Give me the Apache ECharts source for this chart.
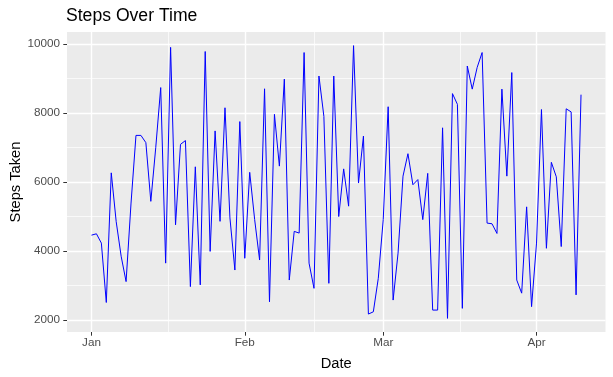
<!DOCTYPE html>
<html>
<head>
<meta charset="utf-8">
<script src="https://cdn.jsdelivr.net/npm/echarts@6/dist/echarts.min.js"></script>
<style>
  html, body { margin: 0; padding: 0; background: #fff; }
  #chart { width: 613px; height: 377px; }
</style>
</head>
<body>
<div id="chart"></div>
<script>
// daily steps, 1 Jan .. 10 Apr
const startDay = [2023, 0, 1];
const steps = [
  4460, 4500, 4230, 2510, 6265, 4850, 3850, 3115, 5390, 7350,
  7350, 7140, 5440, 7000, 8735, 3650, 9900, 4760, 7090, 7200,
  2970, 6440, 3020, 9780, 3990, 7480, 4860, 8150, 4960, 3450,
  7750, 3790, 6280, 4910, 3740, 8700, 2530, 7960, 6460, 8980,
  3160, 4570, 4520, 9750, 3650, 2920, 9070, 7900, 3065, 9070,
  5000, 6380, 5300, 9950, 5970, 7330, 2175, 2240, 3210, 4910,
  8180, 2580, 3940, 6170, 6820, 5920, 6070, 4910, 6250, 2290,
  2290, 7570, 2050, 8560, 8250, 2340, 9360, 8690, 9320, 9750,
  4810, 4790, 4510, 8690, 6170, 9170, 3160, 2780, 5280, 2390,
  4230, 8100, 4080, 6570, 6150, 4130, 8120, 8030, 2730, 8530
];
const monthTicks = [[2023, 0, 1], [2023, 1, 1], [2023, 2, 1], [2023, 3, 1]];
const monthLabels = ['Jan', 'Feb', 'Mar', 'Apr'];
const yTicks = [2000, 4000, 6000, 8000, 10000];
const yMinor = [3000, 5000, 7000, 9000];

// x measured in days since startDay
const DAY = 86400000;
const t0 = Date.UTC(startDay[0], startDay[1], startDay[2]);
const dayOf = d => Math.round((Date.UTC(d[0], d[1], d[2]) - t0) / DAY);
const days = steps.map((_, i) => i);
const xTicks = monthTicks.map(dayOf);
const xMinor = xTicks.slice(1).map((t, i) => (t + xTicks[i]) / 2);

// ggplot style 5% padding
const span = days[days.length - 1] - days[0];
const xMin = days[0] - span * 0.05;
const xMax = days[days.length - 1] + span * 0.05;
const yLo = Math.min(...steps), yHi = Math.max(...steps);
const yMin = yLo - (yHi - yLo) * 0.05;
const yMax = yHi + (yHi - yLo) * 0.05;

const font = "'Liberation Sans', Arial, sans-serif";
const noLine = { show: false, onZero: false };

let myChart = echarts.init(document.getElementById('chart'));
myChart.setOption({
  animation: false,
  textStyle: { fontFamily: font },
  title: {
    text: 'Steps Over Time',
    left: 66, top: 7, padding: 0,
    textStyle: { fontSize: 17.6, fontWeight: 'normal', color: '#000', fontFamily: font }
  },
  grid: {
    left: 67, right: 7.5, top: 32, bottom: 45,
    outerBoundsMode: 'none',
    containLabel: false,
    show: true, backgroundColor: '#EBEBEB', borderWidth: 0
  },
  xAxis: [{
    type: 'value',
    min: xMin, max: xMax,
    name: 'Date',
    nameLocation: 'middle',
    nameGap: 24,
    nameMoveOverlap: false,
    nameTextStyle: { fontSize: 14.7, color: '#000', fontFamily: font },
    axisLine: noLine,
    axisTick: {
      show: true, length: 3.7, customValues: xTicks,
      lineStyle: { color: '#333333', width: 1 }
    },
    axisLabel: {
      customValues: xTicks,
      margin: 5, fontSize: 11.7, color: '#4D4D4D', fontFamily: font,
      formatter: v => monthLabels[xTicks.indexOf(v)] || ''
    },
    splitLine: { show: true, lineStyle: { color: '#FFFFFF', width: 1.4 } }
  }, {
    type: 'value',
    min: xMin, max: xMax,
    position: 'bottom',
    axisLine: noLine,
    axisTick: { show: false, customValues: xMinor },
    axisLabel: { show: false, customValues: xMinor },
    splitLine: { show: true, lineStyle: { color: '#FFFFFF', width: 0.7 } }
  }],
  yAxis: [{
    type: 'value',
    min: yMin, max: yMax,
    name: 'Steps Taken',
    nameLocation: 'middle',
    nameGap: 44,
    nameMoveOverlap: false,
    nameTextStyle: { fontSize: 14.7, color: '#000', fontFamily: font },
    axisLine: noLine,
    axisTick: {
      show: true, length: 3.7, customValues: yTicks,
      lineStyle: { color: '#333333', width: 1 }
    },
    axisLabel: {
      customValues: yTicks,
      margin: 7, fontSize: 11.7, color: '#4D4D4D', fontFamily: font,
      formatter: v => String(v)
    },
    splitLine: { show: true, lineStyle: { color: '#FFFFFF', width: 1.4 } }
  }, {
    type: 'value',
    min: yMin, max: yMax,
    position: 'left',
    axisLine: noLine,
    axisTick: { show: false, customValues: yMinor },
    axisLabel: { show: false, customValues: yMinor },
    splitLine: { show: true, lineStyle: { color: '#FFFFFF', width: 0.7 } }
  }],
  series: [{
    type: 'line',
    data: days.map((d, i) => [d, steps[i]]),
    showSymbol: false,
    lineStyle: { color: '#0000FF', width: 1 },
    z: 5
  }]
});
</script>
</body>
</html>
